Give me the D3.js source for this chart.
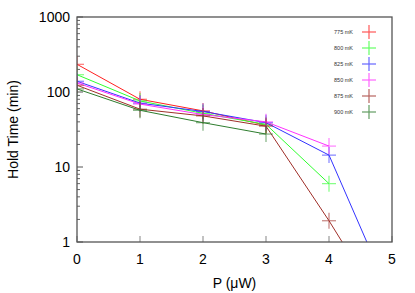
<!DOCTYPE html>
<html><head><meta charset="utf-8">
<script src="https://cdn.jsdelivr.net/npm/d3@7"></script>
<style>body{margin:0;background:#fff}svg{display:block}text{font-family:"Liberation Sans",Arial,sans-serif}</style>
</head><body><svg id="c" width="415" height="293"></svg>
<script>
const power = [0, 1, 2, 3, 4, 5];
const seriesNames = ["775 mK", "800 mK", "825 mK", "850 mK", "875 mK", "900 mK"];
const seriesColors = ["#ff2020", "#30ff30", "#3333ff", "#ff30ff", "#a0302a", "#2e7d2e"];
const s775 = [234, 80, 56, 36];
const s800 = [170, 76, 52, 37, 6.0];
const s825 = [139, 71, 55, 39, 14.4, 0.17];
const s850 = [132, 69, 50, 40, 19];
const s875 = [123, 59, 48, 35, 1.92, 0.085];
const s900 = [110, 57, 39, 27.5];
const allSeries = [s775, s800, s825, s850, s875, s900];
const xTicks = [0, 1, 2, 3, 4, 5];
const yTicks = [1, 10, 100, 1000];

const svg = d3.select("#c");
const L = 77, R = 392, T = 17, B = 242;
const x = d3.scaleLinear().domain([0, 5]).range([L, R]);
const y = d3.scaleLog().domain([1, 1000]).range([B, T]);

svg.append("defs").append("clipPath").attr("id", "clip")
  .append("rect").attr("x", L).attr("y", T).attr("width", R - L).attr("height", B - T);

// minor y ticks
const minor = [];
for (let d = 1; d < 1000; d *= 10) for (let k = 2; k <= 9; k++) minor.push(d * k);
svg.append("g").selectAll("line").data(minor).join("line")
  .attr("x1", L).attr("x2", L + 3).attr("y1", d => y(d)).attr("y2", d => y(d))
  .attr("stroke", "#666").attr("stroke-width", 1);
svg.append("g").selectAll("line").data(yTicks).join("line")
  .attr("x1", L).attr("x2", L + 6).attr("y1", d => y(d)).attr("y2", d => y(d))
  .attr("stroke", "#555").attr("stroke-width", 1);
svg.append("g").selectAll("line").data(xTicks).join("line")
  .attr("x1", d => x(d)).attr("x2", d => x(d)).attr("y1", B).attr("y2", B - 6)
  .attr("stroke", "#999").attr("stroke-width", 1.2);

// tick labels
svg.append("g").selectAll("text").data(yTicks).join("text")
  .attr("x", L - 7).attr("y", d => y(d) + 5).attr("text-anchor", "end")
  .attr("font-size", 14).attr("fill", "#000").text(d => d);
svg.append("g").selectAll("text").data(xTicks).join("text")
  .attr("x", d => x(d)).attr("y", 264).attr("text-anchor", "middle")
  .attr("font-size", 14).attr("fill", "#000").text(d => d);

// axis titles
svg.append("text").attr("x", x(2.5)).attr("y", 288).attr("text-anchor", "middle")
  .attr("font-size", 14).text("P (μW)");
svg.append("text").attr("transform", `translate(18,${(T + B) / 2}) rotate(-90)`)
  .attr("text-anchor", "middle").attr("font-size", 14).text("Hold Time (min)");

// series
const line = d3.line().x((d, i) => x(power[i])).y(d => y(d));
const plot = svg.append("g").attr("clip-path", "url(#clip)");
allSeries.forEach((s, k) => {
  const c = seriesColors[k];
  plot.append("path").datum(s).attr("d", line).attr("fill", "none")
    .attr("stroke", c).attr("stroke-width", 1);
  const pts = s.map((v, i) => ({ px: x(power[i]), py: y(v) }));
  const g = plot.append("g").attr("stroke", c).attr("stroke-width", 1.2).attr("opacity", 0.6);
  g.selectAll(".h").data(pts).join("line").attr("x1", d => d.px - 7).attr("x2", d => d.px + 7)
    .attr("y1", d => d.py).attr("y2", d => d.py);
  g.selectAll(".v").data(pts).join("line").attr("x1", d => d.px).attr("x2", d => d.px)
    .attr("y1", d => d.py - 8).attr("y2", d => d.py + 8);
});

// legend
seriesNames.forEach((n, k) => {
  const ly = 32 + k * 16;
  svg.append("text").attr("x", 353).attr("y", ly + 2).attr("text-anchor", "end")
    .attr("font-size", 5.5).attr("fill", "#333").text(n);
  const g = svg.append("g").attr("stroke", seriesColors[k]).attr("stroke-width", 1.2).attr("opacity", 0.75);
  g.append("line").attr("x1", 362).attr("x2", 376).attr("y1", ly).attr("y2", ly);
  g.append("line").attr("x1", 369).attr("x2", 369).attr("y1", ly - 7).attr("y2", ly + 7);
});

// border
svg.append("rect").attr("x", L).attr("y", T).attr("width", R - L).attr("height", B - T)
  .attr("fill", "none").attr("stroke", "#555").attr("stroke-width", 1.3);
</script></body></html>
